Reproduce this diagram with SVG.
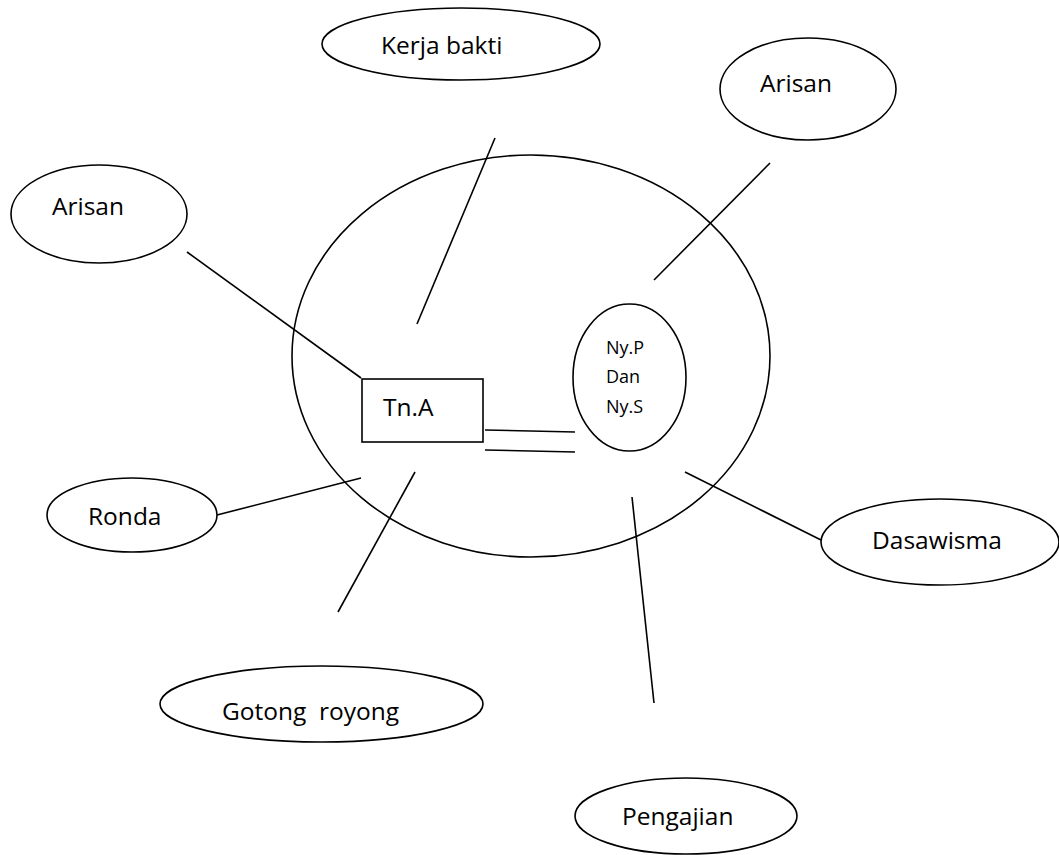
<svg xmlns="http://www.w3.org/2000/svg" width="1059" height="855" viewBox="0 0 1059 855">
  <style>
    .shape { fill: #ffffff; stroke: #000000; stroke-width: 1.6; }
    .edge { stroke: #000000; stroke-width: 1.6; fill: none; }
    .label { font-family: "Open Sans", "Noto Sans", sans-serif; font-size: 24.5px; fill: #000000; white-space: pre; }
    .small { font-size: 18px; }
  </style>
  <rect width="1059" height="855" fill="#ffffff"/>

  <!-- household circle -->
  <g id="household">
    <ellipse class="shape" cx="531" cy="356" rx="239" ry="201"/>
  </g>

  <!-- connectors -->
  <g id="connectors">
    <line class="edge" x1="187" y1="252" x2="361" y2="378"/>
    <line class="edge" x1="495" y1="138" x2="417" y2="324"/>
    <line class="edge" x1="770" y1="163" x2="654" y2="280"/>
    <line class="edge" x1="217" y1="515" x2="361" y2="478"/>
    <line class="edge" x1="415" y1="472" x2="338" y2="612"/>
    <line class="edge" x1="632" y1="497" x2="654" y2="703"/>
    <line class="edge" x1="685" y1="472" x2="821" y2="540"/>
    <line class="edge" x1="485" y1="430" x2="575" y2="432"/>
    <line class="edge" x1="485" y1="450" x2="575" y2="452"/>
  </g>

  <g id="tn-a">
    <rect class="shape" x="362" y="379" width="121" height="63"/>
    <text class="label" x="383" y="416" font-size="23">Tn.A</text>
  </g>

  <g id="ny-p-dan-ny-s">
    <ellipse class="shape" cx="629.5" cy="377.5" rx="56.5" ry="73.5"/>
    <text class="label small" x="606" y="354">Ny.P</text>
    <text class="label small" x="606" y="383">Dan</text>
    <text class="label small" x="606" y="413">Ny.S</text>
  </g>

  <g id="kerja-bakti">
    <ellipse class="shape" cx="461" cy="44" rx="139" ry="36"/>
    <text class="label" x="381" y="54">Kerja bakti</text>
  </g>

  <g id="arisan-right">
    <ellipse class="shape" cx="808" cy="89" rx="88" ry="51"/>
    <text class="label" x="760" y="92">Arisan</text>
  </g>

  <g id="arisan-left">
    <ellipse class="shape" cx="99" cy="214" rx="88" ry="49"/>
    <text class="label" x="52" y="215">Arisan</text>
  </g>

  <g id="ronda">
    <ellipse class="shape" cx="132" cy="515" rx="85" ry="37"/>
    <text class="label" x="88" y="525">Ronda</text>
  </g>

  <g id="dasawisma">
    <ellipse class="shape" cx="940" cy="542" rx="119" ry="43"/>
    <text class="label" x="872" y="549">Dasawisma</text>
  </g>

  <g id="gotong-royong">
    <ellipse class="shape" cx="321.5" cy="704" rx="161.5" ry="38"/>
    <text class="label" x="222" y="720">Gotong  royong</text>
  </g>

  <g id="pengajian">
    <ellipse class="shape" cx="686" cy="816" rx="111" ry="38"/>
    <text class="label" x="622" y="825">Pengajian</text>
  </g>
</svg>
